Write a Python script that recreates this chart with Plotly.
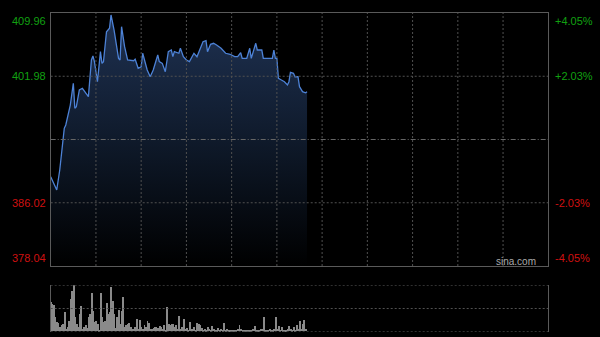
import plotly.graph_objects as go

# ---- data (minutes since open, HK session with lunch removed) ----
times = [0,4,6,9,10,13,15,16,17,19,21,24,25,27,28,29,31,33,34,35,37,39,40,42,45,46,47,49,51,55,
         56,58,60,61,64,66,68,71,72,74,76,78,80,81,82,85,86,88,90,92,95,97,99,101,103,104,106,108,110,113,
         116,119,122,124,126,127,130,132,133,136,137,140,141,147,148,149,150,151,153,155,
         157,158,159,161,162,164,165,167,169,170]
prices = [389.31,387.63,390.15,395.41,395.83,398.35,401.09,397.94,398.14,400.25,
          400.46,399.61,399.40,404.03,404.53,403.82,401.29,405.08,403.61,403.82,
          407.60,408.03,409.71,407.82,404.24,404.03,408.23,405.71,404.03,403.94,
          404.12,402.98,403.18,404.88,402.77,401.92,402.77,404.66,403.82,403.61,
          402.55,405.08,405.29,404.45,405.08,404.88,405.51,404.45,404.03,403.82,
          404.88,404.45,405.51,406.34,406.47,405.08,406.01,406.14,405.92,405.51,
          404.88,404.75,404.45,404.45,404.95,404.24,404.24,405.51,404.24,406.14,
          405.29,405.29,404.24,404.24,405.29,404.24,404.24,401.72,401.51,401.29,
          400.88,401.29,402.48,402.35,401.92,401.92,400.66,400.03,399.90,400.03]

volumes = [64,60,57,30,20,18,9,14,16,41, 5, 9,23,70,87,100,30,16,9,38,55, 6, 9,13,8,32,38,82,45,20,23,16, 4,
           82,30,20,23,62,38,41,96,66,38, 7, 30,46,16,45,74,9,13,16,18,9, 5, 6,9,
           27,6,25,9,6,13,9,23,18, 5, 6,7,9,9,8,11,9,6,13, 4, 53,16,13,16,15,9,13,6,34, 5,
           9,27,6,7,4,21,6,6,9, 4, 18,16,14,7,4,6,4,9,6, 3, 11,6,4,4,7, 4,
           6,4,18,4,6,4,4,4,4, 3, 4,6,14,6,4,4,4,4,4, 3, 4,6,11,4,4,4,6,6,30, 3,
           4,4,6,4,4,6,30,6,11, 4, 9,4,4,4,6,11,6,4,9, 3, 13,6,22,5,15,25,6]
vol_times = list(range(len(volumes)))

prev_close = 394.00
price_ticks = [409.96, 401.98, 386.02, 378.04]
price_labels = ["409.96", "401.98", "386.02", "378.04"]
pct_labels = ["+4.05%", "+2.03%", "-2.03%", "-4.05%"]
session_minutes = 330
time_grid = list(range(30, 330, 30))
vol_grid = [0, 50, 100]

# ---- layout geometry ----
W, H = 600, 337
x0, x1 = 50.7 / W, 548.3 / W
py_top, py_bot = 1 - 13 / H, 1 - 266 / H
vy_top, vy_bot = 1 - 285.3 / H, 1 - 331.7 / H

GREEN = "#11a011"
RED = "#d01010"
GRID = "#505050"
BORDER = "#5a5a5a"
FONT = "Liberation Sans, Arial, sans-serif"
DOT = "2px,2px"

fig = go.Figure()

fig.add_trace(go.Scatter(
    x=times, y=prices, mode="lines",
    line=dict(color="#4d82d6", width=1.3),
    fill="tozeroy",
    fillgradient=dict(type="vertical", start=price_ticks[-1], stop=price_ticks[0],
                      colorscale=[[0, "#000000"], [0.5, "#0f1a2b"], [1, "#1f3253"]]),
    hoverinfo="skip", xaxis="x", yaxis="y"))

fig.add_trace(go.Bar(
    x=vol_times, y=volumes, width=0.6,
    marker=dict(color="#8a8a8a", line=dict(width=0)),
    hoverinfo="skip", xaxis="x2", yaxis="y2"))

fig.update_layout(
    width=W, height=H, margin=dict(l=0, r=0, t=0, b=0),
    paper_bgcolor="#000000", plot_bgcolor="#000000",
    showlegend=False, bargap=0,
    font=dict(family=FONT, size=11, color="#aaaaaa"),
    xaxis=dict(domain=[x0, x1], range=[0, session_minutes], anchor="y",
               showticklabels=False, ticks="", showgrid=False,
               showline=True, mirror=True, linecolor=BORDER, linewidth=1, zeroline=False),
    yaxis=dict(domain=[py_bot, py_top], range=[price_ticks[-1], price_ticks[0]], anchor="x",
               showticklabels=False, ticks="", showgrid=False,
               showline=True, mirror=True, linecolor=BORDER, linewidth=1, zeroline=False),
    xaxis2=dict(domain=[x0, x1], range=[0, session_minutes], anchor="y2",
                showticklabels=False, ticks="", showgrid=False, showline=False, zeroline=False),
    yaxis2=dict(domain=[vy_bot, vy_top], range=[0, 100], anchor="x2",
                showticklabels=False, ticks="", showgrid=False,
                showline=True, mirror=True, linecolor=BORDER, linewidth=1, zeroline=False),
)

# grid lines drawn above the fill
for t in time_grid:
    fig.add_shape(type="line", xref="x", yref="y", x0=t, x1=t,
                  y0=price_ticks[-1], y1=price_ticks[0], layer="above",
                  line=dict(color=GRID, width=1, dash=DOT))
for v in (price_ticks[1], price_ticks[2]):
    fig.add_shape(type="line", xref="x", yref="y", x0=0, x1=session_minutes,
                  y0=v, y1=v, layer="above", line=dict(color=GRID, width=1, dash=DOT))
fig.add_shape(type="line", xref="x", yref="y", x0=0, x1=session_minutes,
              y0=prev_close, y1=prev_close, layer="above",
              line=dict(color="#666666", width=1, dash="5px,2px,1px,2px"))
for v in vol_grid:
    fig.add_shape(type="line", xref="x2", yref="y2", x0=0, x1=session_minutes,
                  y0=v, y1=v, layer="above", line=dict(color=GRID, width=1, dash=DOT))

anchors = ["top", "middle", "middle", "bottom"]
for val, lab, pct, anc in zip(price_ticks, price_labels, pct_labels, anchors):
    col = GREEN if val > prev_close else RED
    fig.add_annotation(x=48 / W, xref="paper", y=val, yref="y", text=lab, showarrow=False,
                       xanchor="right", yanchor=anc, font=dict(color=col, size=11, family=FONT))
    fig.add_annotation(x=552.5 / W, xref="paper", y=val, yref="y", text=pct, showarrow=False,
                       xanchor="left", yanchor=anc, font=dict(color=col, size=11, family=FONT))

fig.add_annotation(x=537.5 / W, xref="paper", y=price_ticks[-1], yref="y", text="sina.com",
                   showarrow=False, xanchor="right", yanchor="bottom", yshift=-3,
                   font=dict(color="#aaaaaa", size=10, family=FONT))

fig.write_html("out.html")
